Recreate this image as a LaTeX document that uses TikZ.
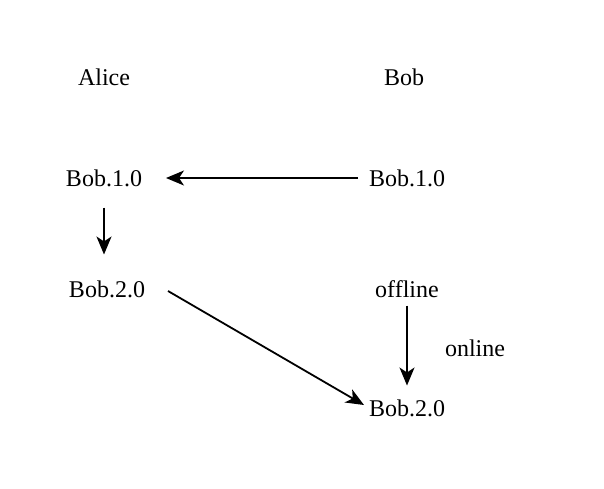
\documentclass[tikz,border=0pt]{standalone}
\usepackage{fontspec}
\setmainfont{Liberation Serif}
\usetikzlibrary{positioning, arrows.meta}

\begin{document}
\begin{tikzpicture}[x=0.5pt, y=-0.5pt]
        \tikzstyle{lbl} = [inner sep=0pt, outer sep=0pt, font=\fontsize{12}{14}\selectfont]
        \tikzstyle{msg} = [-{Stealth[length=9pt, width=7.5pt, inset=2.5pt]}, line width=0.9pt, black]
        \useasboundingbox (0,0) rectangle (604,488);

        % column heads
        \node[lbl] (alice) at (104, 77) {Alice};
        \node[lbl] (bob) at (404, 77) {Bob};

        % alice side
        \node[lbl] (a1) at (104, 178) {Bob.1.0};
        \node[lbl] (a2) at (107, 289) {Bob.2.0};

        % bob side
        \node[lbl] (b1) at (407, 178) {Bob.1.0};
        \node[lbl] (b2) at (407, 289) {offline};
        \node[lbl] (b3) at (407, 408) {Bob.2.0};
        \node[lbl] (on) at (475, 348) {online};

        \draw[msg] ([shift={(-11,0)}]b1.west) -- ([shift={(24,0)}]a1.east);
        \draw[msg] ([shift={(0,21)}]a1.south) -- ([shift={(-3,-26)}]a2.north);
        \draw[msg] ([shift={(23,2)}]a2.east) -- ([shift={(-5,-3)}]b3.west);
        \draw[msg] ([shift={(0,8)}]b2.south) -- ([shift={(0,-14)}]b3.north);
      \end{tikzpicture}
\end{document}
